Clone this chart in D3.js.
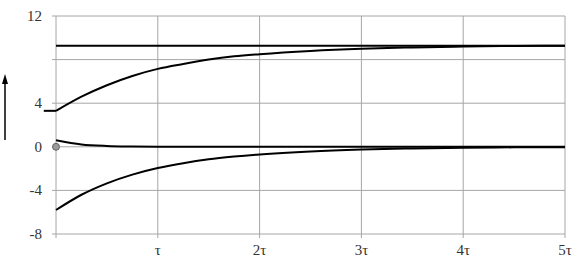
<!DOCTYPE html>
<html>
<head>
<meta charset="utf-8">
<script src="https://cdn.jsdelivr.net/npm/d3@7"></script>
<style>
body { margin: 0; background: #fff; }
</style>
</head>
<body>
<svg id="canvas" width="579" height="271"></svg>
<script>
// time in units of tau
var times = [0, 0.25, 0.5, 0.75, 1, 1.25, 1.5, 1.75, 2, 2.5, 3, 3.5, 4, 4.5, 5];
var rising = [3.3, 4.6, 5.65, 6.5, 7.15, 7.6, 8.0, 8.3, 8.5, 8.8, 9.0, 9.12, 9.2, 9.25, 9.27];
var falling = [-5.8, -4.4, -3.35, -2.55, -1.95, -1.5, -1.15, -0.9, -0.7, -0.42, -0.25, -0.15, -0.09, -0.05, -0.03];
var spike = [0.6, 0.22, 0.08, 0.03, 0.01, 0, 0, 0, 0, 0, 0, 0, 0, 0, 0];
var finalLevel = 9.27;
var startLevel = 3.3;
var preTime = -0.12;

var yTicks = [12, 8, 4, 0, -4, -8];
var yLabels = ['12', '', '4', '0', '-4', '-8'];
var xTicks = [0, 1, 2, 3, 4, 5];
var xLabels = ['', 'τ', '2τ', '3τ', '4τ', '5τ'];

var svg = d3.select('#canvas');

var x = d3.scaleLinear().domain([0, 5]).range([56, 565]);
var y = d3.scaleLinear().domain([-8, 12]).range([234, 16]);

var fontFam = '"Liberation Serif", "DejaVu Serif", "Times New Roman", serif';

// grid
svg.selectAll('line.hgrid')
    .data(yTicks)
    .enter()
    .append('line')
    .attr('class', 'hgrid')
    .attr('x1', x(0) - 4)
    .attr('x2', x(5))
    .attr('y1', function(d) { return y(d); })
    .attr('y2', function(d) { return y(d); })
    .attr('stroke', '#a6a6a6')
    .attr('stroke-width', 1);

svg.selectAll('line.vgrid')
    .data(xTicks)
    .enter()
    .append('line')
    .attr('class', 'vgrid')
    .attr('x1', function(d) { return x(d); })
    .attr('x2', function(d) { return x(d); })
    .attr('y1', y(12))
    .attr('y2', y(-8) + 4)
    .attr('stroke', '#a6a6a6')
    .attr('stroke-width', 1);

// tick labels
svg.selectAll('text.ylab')
    .data(yTicks)
    .enter()
    .append('text')
    .attr('class', 'ylab')
    .attr('x', 42)
    .attr('y', function(d) { return y(d) + 5; })
    .attr('text-anchor', 'end')
    .attr('font-family', fontFam)
    .attr('font-size', 15)
    .attr('fill', '#333')
    .text(function(d, i) { return yLabels[i]; });

svg.selectAll('text.xlab')
    .data(xTicks)
    .enter()
    .append('text')
    .attr('class', 'xlab')
    .attr('x', function(d) { return x(d); })
    .attr('y', 255)
    .attr('text-anchor', 'middle')
    .attr('font-family', fontFam)
    .attr('font-size', 15)
    .attr('fill', '#333')
    .text(function(d, i) { return xLabels[i]; });

var line = d3.line()
    .x(function(d) { return x(d[0]); })
    .y(function(d) { return y(d[1]); })
    .curve(d3.curveMonotoneX);

function draw(pts) {
    svg.append('path')
        .datum(pts)
        .attr('d', line)
        .attr('fill', 'none')
        .attr('stroke', '#000')
        .attr('stroke-width', 2);
}

function series(vals) {
    return times.map(function(t, i) { return [t, vals[i]]; });
}

draw([[0, finalLevel], [5, finalLevel]]);
draw([[preTime, startLevel], [0, startLevel]]);
draw(series(rising));
draw(series(falling));
draw(series(spike));

svg.append('circle')
    .attr('cx', x(0))
    .attr('cy', y(0))
    .attr('r', 3.5)
    .attr('fill', '#999')
    .attr('stroke', '#666')
    .attr('stroke-width', 1);

// arrow on the left
svg.append('line')
    .attr('x1', 5).attr('x2', 5)
    .attr('y1', 140).attr('y2', 80)
    .attr('stroke', '#000')
    .attr('stroke-width', 1.5);
svg.append('path')
    .attr('d', 'M5,74 L2,84 L8,84 Z')
    .attr('fill', '#000');
</script>
</body>
</html>
